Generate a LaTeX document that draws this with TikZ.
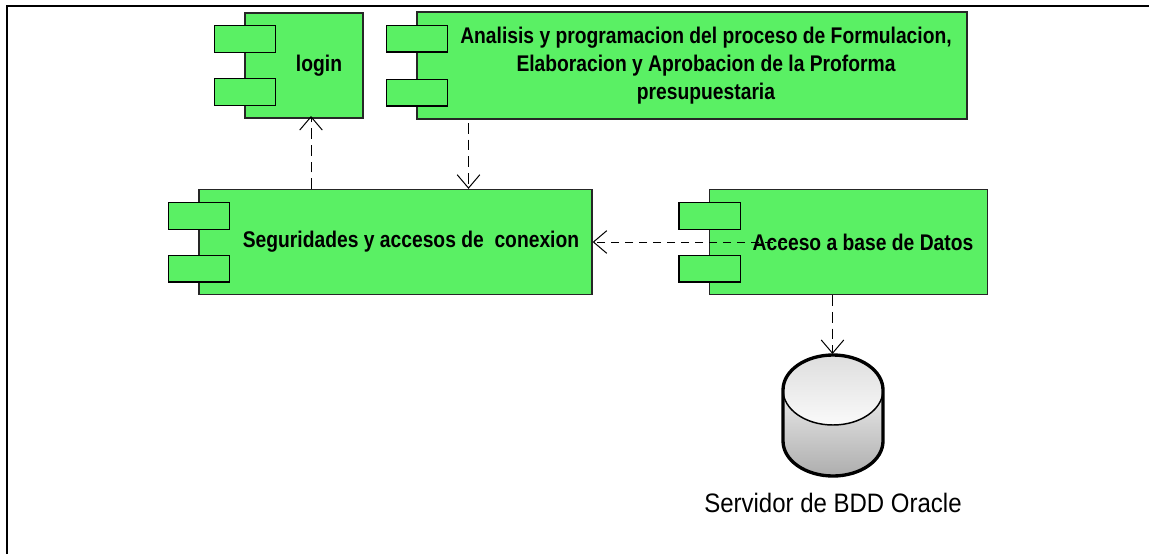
\documentclass[tikz,border=0pt]{standalone}
\usepackage{fontspec}
\setmainfont{Liberation Sans}
\newfontfamily\compfont[FakeStretch=0.85]{Liberation Sans}
\newfontfamily\dbfont[FakeStretch=0.9]{Liberation Sans}
\usetikzlibrary{arrows.meta}
\definecolor{compgreen}{RGB}{90,240,100}
\tikzset{
  body/.style={draw=black!85,fill=compgreen,line width=1pt,inner sep=0pt},
  tab/.style={draw=black,fill=compgreen,line width=1pt,minimum width=46pt,minimum height=20pt,inner sep=0pt},
  comptext/.style={font=\compfont\bfseries\fontsize{17}{21}\selectfont,align=center},
  dep/.style={draw=black,line width=0.75pt,dash pattern={on 8pt off 4.5pt},-{Straight Barb[length=10pt,width=17pt,line width=0.75pt]}}
}
\begin{document}
\begin{tikzpicture}[x=0.75pt,y=0.75pt,yscale=-1,xscale=1]
\useasboundingbox (0,0) rectangle (1149,554);
\draw [line width=1.5pt] (7,554) -- (7,6) -- (1149,6);

% components
\node [body,minimum width=88.5pt,minimum height=78.75pt] (login) at (304,65.5) {};
\node [tab] (logina) at (245,39) {};
\node [tab] (loginb) at (245,92) {};
\node [comptext] (logint) at (319,66) {login};

\node [body,minimum width=412.5pt,minimum height=80.25pt] (analisis) at (692,65.5) {};
\node [tab] (analisisa) at (417,38.5) {};
\node [tab] (analisisb) at (417,92.5) {};
\node [comptext] (analisist) at (706,66) {Analisis y programacion del proceso de Formulacion,\\Elaboracion y Aprobacion de la Proforma\\presupuestaria};

\node [body,minimum width=294.75pt,minimum height=78.75pt] (seguridades) at (395.5,242) {};
\node [tab] (seguridadesa) at (199,216) {};
\node [tab] (seguridadesb) at (199,268.5) {};
\node [comptext] (seguridadest) at (411,242) {Seguridades y accesos de\ \ conexion};

\node [body,minimum width=208.5pt,minimum height=78.75pt] (acceso) at (848.5,242) {};
\node [tab] (accesoa) at (709.5,216) {};
\node [tab] (accesob) at (709.5,268.5) {};

% data base
\shade [top color=black!8,bottom color=black!32] (783,390) -- (783,441) arc [start angle=180,end angle=0,x radius=50,y radius=35] -- (883,390) -- cycle;
\shade [top color=black!13,bottom color=black!2] (833,390) circle [x radius=50,y radius=35];
\draw [line width=2.5pt] (783,390) -- (783,441) arc [start angle=180,end angle=0,x radius=50,y radius=35] -- (883,390) arc [start angle=0,end angle=-180,x radius=50,y radius=35];
\draw [line width=1.1pt] (783,390) arc [start angle=180,end angle=0,x radius=50,y radius=35];
\coordinate (oracle) at (832.5,354);
\node [font=\dbfont\fontsize{20}{24}\selectfont] (oraclet) at (833,503) {Servidor de BDD Oracle};

% dependencies
\coordinate (logins) at (311,189);
\coordinate (logine) at (311,116);
\coordinate (analisiss) at (468.5,123);
\coordinate (accesos) at (787,242);
\draw [dep] (logins) -- (logine);
\draw [dep] (analisiss) -- (analisiss |- seguridades.north);
\draw [dep,dash pattern={on 6pt off 4.5pt}] (accesos) -- (seguridades.east |- accesos);
\draw [dep] (oracle |- acceso.south) -- (oracle);

\node [comptext] (accesot) at (863,242) {Acceso a base de Datos};
\end{tikzpicture}
\end{document}
